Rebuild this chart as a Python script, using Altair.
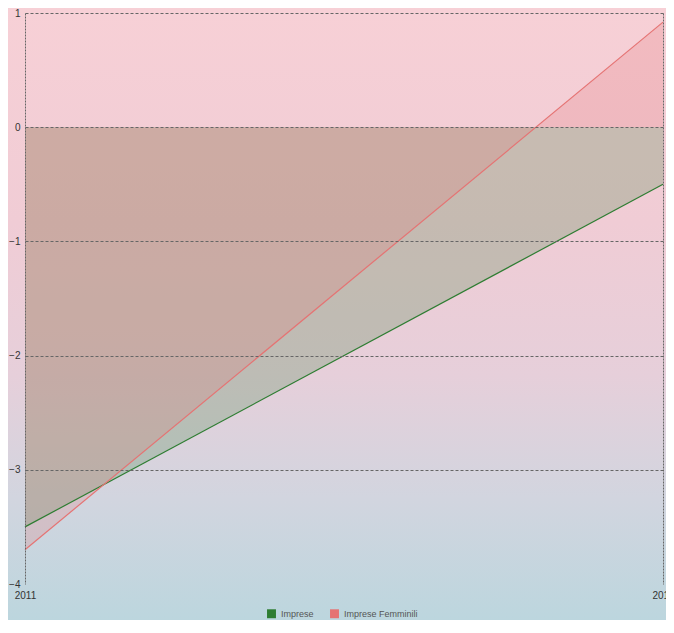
import altair as alt
import pandas as pd

years = [2011, 2012]
series_names = ["Imprese", "Imprese Femminili"]
imprese = [-3.5, -0.5]
imprese_femminili = [-3.7, 0.92]
y_ticks = [-4, -3, -2, -1, 0, 1]
colors = ["#2e7d32", "#e57373"]

rows = []
for i, yr in enumerate(years):
    rows.append({"year": yr, "series": series_names[0], "value": imprese[i]})
    rows.append({"year": yr, "series": series_names[1], "value": imprese_femminili[i]})
df = pd.DataFrame(rows)

W, H = 638, 571
PL, PT, PR, PB = 17, 5, 3, 36

bg = alt.Chart(alt.Data(values=[{}])).mark_rect(
    color=alt.Gradient(
        gradient="linear",
        stops=[
            alt.GradientStop(color="#f7d0d6", offset=0),
            alt.GradientStop(color="#f0ccd5", offset=0.35),
            alt.GradientStop(color="#e6cfda", offset=0.6),
            alt.GradientStop(color="#d2d5df", offset=0.8),
            alt.GradientStop(color="#bcd6de", offset=1),
        ],
        x1=0, x2=0, y1=0, y2=1,
    )
).encode(
    x=alt.value(-PL), x2=alt.value(W + PR), y=alt.value(-PT), y2=alt.value(H + PB)
)

x_enc = alt.X(
    "year:Q",
    scale=alt.Scale(domain=[2011, 2012], nice=False, zero=False),
    axis=alt.Axis(
        values=years, format="d", title=None, labelFlush=False, tickSize=0,
        labelPadding=6, domain=False, grid=True, gridDash=[2, 1],
        gridColor="#666666", labelFont="Liberation Sans", labelFontSize=10,
        labelColor="#333333", zindex=1,
    ),
)
y_enc = alt.Y(
    "value:Q",
    scale=alt.Scale(domain=[-4, 1], nice=False, zero=False),
    axis=alt.Axis(
        values=y_ticks, format="d", title=None, tickSize=0, labelPadding=5,
        domain=False, grid=True, gridDash=[3, 2], gridColor="#666666",
        gridOpacity={"condition": {"test": "datum.value === -4", "value": 0}, "value": 1},
        labelFont="Liberation Sans", labelFontSize=10, labelColor="#333333",
        zindex=1,
    ),
)
color_scale = alt.Scale(domain=series_names, range=colors)

area = alt.Chart(df).mark_area(fillOpacity=0.22).encode(
    x=x_enc,
    y=y_enc,
    y2=alt.datum(0),
    color=alt.Color(
        "series:N", scale=color_scale,
        legend=alt.Legend(
            title=None, orient="none", legendX=242, legendY=596,
            direction="horizontal", symbolType="square", symbolSize=80,
            symbolOpacity=1, symbolStrokeWidth=0, columnPadding=16,
            labelOffset=5, labelFont="Liberation Sans", labelFontSize=9,
            labelColor="#555555",
        ),
    ),
    detail="series:N",
)

lines = alt.Chart(df).mark_line(strokeWidth=1.2).encode(
    x=alt.X("year:Q"),
    y=alt.Y("value:Q"),
    color=alt.Color("series:N", scale=color_scale, legend=None),
)

chart = alt.layer(bg, area, lines).properties(
    width=W, height=H,
    autosize=alt.AutoSizeParams(type="none"),
    padding={"left": PL, "top": PT, "right": PR, "bottom": PB},
).configure_view(stroke=None).configure(background="#f5d3d8")

chart.save("out.html", embed_options={"renderer": "svg", "actions": False})
